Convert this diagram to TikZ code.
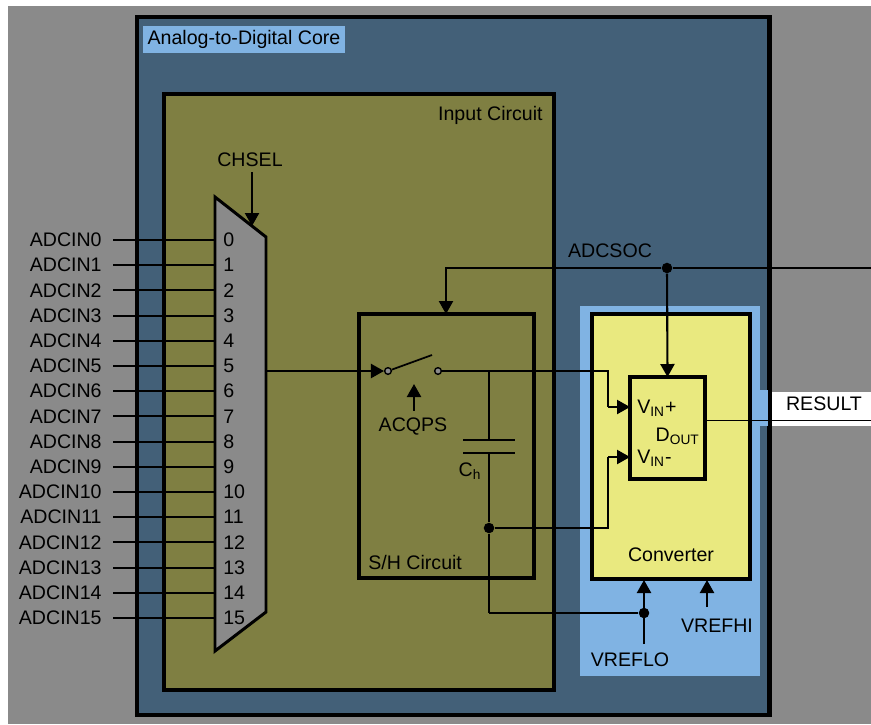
\documentclass[tikz,border=0pt]{standalone}
\usepackage{fontspec}
\setmainfont{Liberation Sans}
\usetikzlibrary{arrows.meta}
\definecolor{bggray}{HTML}{8A8A8A}
\definecolor{coreblue}{HTML}{436078}
\definecolor{inolive}{HTML}{7F7F42}
\definecolor{convblue}{HTML}{80B3E3}
\definecolor{convyellow}{HTML}{E9E97F}
\tikzset{
  lbl/.style={font=\fontsize{11.15pt}{12pt}\selectfont, inner sep=0pt},
  block/.style={draw, line width=2.3pt, inner sep=0pt, outer sep=0pt},
  pane/.style={inner sep=0pt, outer sep=0pt},
  wire/.style={line width=1.2pt},
  sig/.style={wire, -{Triangle[length=7.4pt,width=8pt]}},
  junc/.style={circle, fill=black, inner sep=0pt, minimum size=6pt},
  contact/.style={circle, draw, fill=bggray, line width=0.8pt, inner sep=0pt, minimum size=3.8pt},
}
\begin{document}
\begin{tikzpicture}[x=0.02cm, y=-0.02cm, line join=miter]
  \useasboundingbox (0,0) rectangle (871,724); % same box as the reference

  % --- panes ---
  \fill[bggray] (8,6) rectangle (871,724);
  \fill[white]  (771,392) rectangle (871,426);
  \node[block, fill=coreblue, minimum width=12.65cm, minimum height=13.97cm] (core) at (453.3,365.7) {};
  \node[pane, fill=convblue, minimum width=3.6cm, minimum height=7.4cm] (convpane) at (670,491) {};
  \fill[convblue] (760,390) rectangle (767.5,426);
  \node[pane, fill=convblue, minimum width=4.04cm, minimum height=0.54cm] (coretitle) at (244,39.5) {};
  \node[lbl] (coretext) at (244,39) {Analog-to-Digital Core};

  \node[block, fill=inolive, minimum width=7.8cm, minimum height=11.92cm] (input) at (359,392) {};
  \node[lbl, anchor=east] (inputtext) at (543,115) {Input Circuit};

  % --- mux ---
  \draw[fill=bggray, line width=1.7pt] (215,197) -- (266,237) -- (266,612) -- (215,651) -- cycle;
  \coordinate (muxout) at (266,371);
  \coordinate (muxsel) at (252,226);
  \foreach \i in {0,...,15}{
    \node[lbl, anchor=east] (adcin\i) at (102,240+25.2*\i) {ADCIN\i};
    \coordinate (muxin\i) at (215,240+25.2*\i);
    \node[lbl, anchor=west] (pin\i) at (223,240+25.2*\i) {\i};
    \draw[wire, shorten <=11pt*0.58] (adcin\i.east) -- (muxin\i);
  }
  \node[lbl] (chsel) at (250,160) {CHSEL};
  \draw[sig] (chsel.south) ++(2,5) coordinate (chseltop) -- (muxsel);

  % --- S/H ---
  \node[block, minimum width=3.5cm, minimum height=5.28cm] (sh) at (446.5,446) {};
  \node[lbl, anchor=west] (shtext) at (368,562) {S/H Circuit};
  \node[contact] (swa) at (388,371) {};
  \node[contact] (swb) at (438,371) {};
  \coordinate (blade) at (432,355);
  \draw[wire, line width=1pt] (swa) -- (blade);
  \draw[sig] (muxout) -- (swa.west);
  \node[lbl] (acqps) at (413,426) {ACQPS};
  \coordinate (acqtip) at (414,384);
  \draw[sig] (acqps.north) ++(1,-6) -- (acqtip);

  \coordinate (captop) at (489,371);
  \coordinate (capa) at (489,440);
  \coordinate (capb) at (489,453);
  \draw[wire] (captop) -- (capa);
  \draw[wire] (463,440) -- (515,440);
  \draw[wire] (463,453) -- (515,453);
  \node[lbl] (cap) at (470,471) {C\textsubscript{h}};

  % --- converter ---
  \node[block, fill=convyellow, minimum width=3.16cm, minimum height=5.3cm] (conv) at (671,446.5) {};
  \node[lbl] (convtext) at (671,555) {Converter};
  \node[block, fill=convyellow, minimum width=1.5cm, minimum height=2.04cm] (adc) at (667.5,428) {};
  \node[lbl, anchor=west] (vinp) at (637,408) {V\textsubscript{IN}+};
  \node[lbl, anchor=west] (vinn) at (637,458) {V\textsubscript{IN}-};
  \node[lbl, anchor=east] (dout) at (700,436) {D\textsubscript{OUT}};

  % --- wires ---
  \coordinate (socin) at (871,268);
  \node[junc] (socdot) at (667,268) {};
  \node[lbl] (adcsoc) at (610,251) {ADCSOC};
  \draw[sig] (socin) -- (socdot) -- (446,268) -- (sh.north -| 446,0);
  \draw[sig] (socdot) -- (adc.north);

  \coordinate (inp) at (adc.west |- 0,407);
  \coordinate (inn) at (adc.west |- 0,457);
  \node[junc] (capdot) at (489,528) {};
  \node[junc] (lodot) at (644,613) {};
  \draw[wire] (swb) -- (608,371) -- (608,407);
  \draw[sig] (608,407) -- (inp);
  \draw[wire] (capb) -- (capdot) -- (lodot.center -| capdot);
  \draw[wire] (lodot.center -| capdot) -- (lodot);
  \draw[wire] (capdot) -- (608,528) -- (608,457);
  \draw[sig] (608,457) -- (inn);

  \node[lbl] (vreflo) at (630,660) {VREFLO};
  \node[lbl] (vrefhi) at (717,626) {VREFHI};
  \coordinate (lostart) at (644,644);
  \coordinate (histart) at (707,607);
  \draw[sig] (lostart) -- (644,580);
  \draw[sig] (histart) -- (707,580);

  \node[lbl] (result) at (824,404) {RESULT};
  \coordinate (resout) at (871,420);
  \draw[line width=0.5pt] (adc.east |- resout) -- (resout);
\end{tikzpicture}
\end{document}
